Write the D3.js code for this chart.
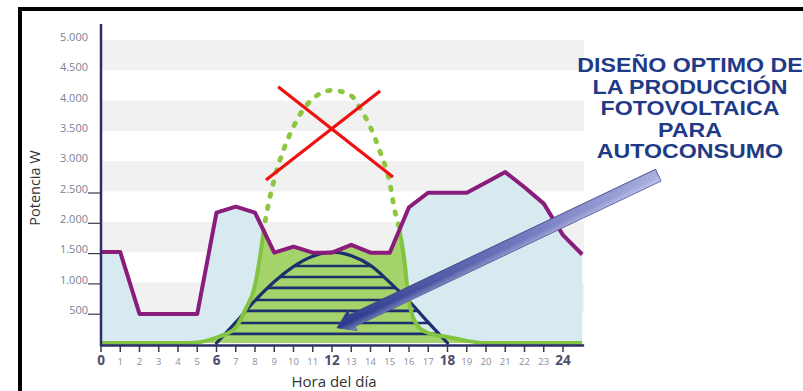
<!DOCTYPE html>
<html>
<head>
<meta charset="utf-8">
<script src="https://cdn.jsdelivr.net/npm/d3@7"></script>
<style>
  html, body { margin: 0; padding: 0; background: #fff; }
  svg { display: block; }
</style>
</head>
<body>
<svg id="chart" width="803" height="391"></svg>
<script>
// Hourly household consumption (W)
const consHours = [0,1,2,3,4,5,6,7,8,9,10,11,12,13,14,15,16,17,18,19,20,21,22,23,24,25];
const consumption = [1500,1500,480,480,480,480,2150,2250,2150,1490,1590,1490,1490,1620,1490,1490,2240,2480,2480,2480,2650,2820,2570,2300,1780,1460];

// Photovoltaic production of an oversized installation (W)
const pvHours = [0,1,2,3,4,5,5.5,6,6.5,7,7.5,8,8.25,8.5,9,9.5,10,10.5,11,12,13,13.5,14,14.5,15,15.25,15.5,15.75,16,16.5,17,18,19,20,21,22,23,24,25];
const pvProduction = [0,0,0,0,0,10,40,90,150,250,550,950,1400,1950,2700,3200,3570,3850,4030,4170,4080,3850,3560,3150,2650,2200,1880,1390,680,265,165,100,35,0,0,0,0,0,0];

// Optimal PV production sized for self-consumption (W)
const optHours = [6,7,8,9,10,11,12,13,14,15,16,17,18];
const optProduction = [0,340,700,1010,1260,1430,1500,1440,1280,1000,690,340,0];
const hatchLevels = [150,330,530,710,910,1090,1270];

// Axis ticks
const yTicks = [500,1000,1500,2000,2500,3000,3500,4000,4500,5000];
const yTicksMarked = [500,1000,1500,2000,2500];
const xTicks = d3.range(0, 25);
const xMajor = [0,6,12,18,24];
const bands = [[500,1000],[1500,2000],[2500,3000],[3500,4000],[4500,5000]];

const title = ["DISEÑO OPTIMO DE","LA PRODUCCIÓN","FOTOVOLTAICA","PARA","AUTOCONSUMO"];

const svg = d3.select("#chart");
const x = d3.scaleLinear().domain([0, 24]).range([101, 563]);
const y = d3.scaleLinear().domain([0, 5000]).range([343, 40]);
const xEnd = x(25.1);

const fmt = d3.formatLocale({decimal: ",", thousands: ".", grouping: [3], currency: ["", "€"]}).format(",d");

const cons = consHours.map((h, i) => ({h, v: consumption[i]}));
const pv = pvHours.map((h, i) => ({h, v: pvProduction[i]}));
const opt = optHours.map((h, i) => ({h, v: optProduction[i]}));

const defs = svg.append("defs");

// Frame
svg.append("line").attr("x1", 18).attr("x2", 803).attr("y1", 9).attr("y2", 9)
  .attr("stroke", "#000").attr("stroke-width", 4);
svg.append("line").attr("x1", 20).attr("x2", 20).attr("y1", 7).attr("y2", 391)
  .attr("stroke", "#000").attr("stroke-width", 4);

// Alternating grid bands
svg.append("g").selectAll("rect").data(bands).join("rect")
  .attr("x", x(0)).attr("width", xEnd - x(0))
  .attr("y", d => y(d[1])).attr("height", d => y(d[0]) - y(d[1]))
  .attr("fill", "#f1f1f1");

// Clip regions below and above the consumption curve
defs.append("clipPath").attr("id", "belowCons").append("path")
  .attr("d", d3.area().x(d => x(d.h)).y0(y(0) + 8).y1(d => y(d.v))(cons));
defs.append("clipPath").attr("id", "aboveCons").append("path")
  .attr("d", d3.area().x(d => x(d.h)).y0(0).y1(d => y(d.v))(cons));

// Consumption area
svg.append("path")
  .attr("d", d3.area().x(d => x(d.h)).y0(y(0)).y1(d => y(d.v))(cons))
  .attr("fill", "#d6eaf0");

// Self-consumed PV energy
svg.append("path")
  .attr("clip-path", "url(#belowCons)")
  .attr("d", d3.area().curve(d3.curveMonotoneX).x(d => x(d.h)).y0(y(0)).y1(d => y(d.v))(pv))
  .attr("fill", "#a4d36c");

// Optimal production: hatched parabola
defs.append("clipPath").attr("id", "optClip").append("path")
  .attr("d", d3.area().curve(d3.curveMonotoneX).x(d => x(d.h)).y0(y(0)).y1(d => y(d.v))(opt));
svg.append("g").attr("clip-path", "url(#optClip)")
  .selectAll("line").data(hatchLevels).join("line")
  .attr("x1", x(5)).attr("x2", x(19))
  .attr("y1", d => y(d)).attr("y2", d => y(d))
  .attr("stroke", "#1d2f6e").attr("stroke-width", 2.6);
svg.append("path")
  .attr("d", d3.line().curve(d3.curveMonotoneX).x(d => x(d.h)).y(d => y(d.v))(opt))
  .attr("fill", "none").attr("stroke", "#1d2f6e").attr("stroke-width", 3.2)
  .attr("stroke-linecap", "round");

// PV production line: solid below consumption, dotted above
const pvLine = d3.line().curve(d3.curveMonotoneX).x(d => x(d.h)).y(d => y(d.v));
svg.append("path").attr("clip-path", "url(#belowCons)")
  .attr("d", pvLine(pv))
  .attr("fill", "none").attr("stroke", "#82c341").attr("stroke-width", 4);
svg.append("path").attr("clip-path", "url(#aboveCons)")
  .attr("d", pvLine(pv))
  .attr("fill", "none").attr("stroke", "#8dc63f").attr("stroke-width", 4.8)
  .attr("stroke-dasharray", "2.5 10").attr("stroke-linecap", "round");

// Consumption line
svg.append("path")
  .attr("d", d3.line().x(d => x(d.h)).y(d => y(d.v))(cons))
  .attr("fill", "none").attr("stroke", "#8a1c7c").attr("stroke-width", 4)
  .attr("stroke-linejoin", "round");

// Y axis
svg.append("line").attr("x1", x(0)).attr("x2", x(0)).attr("y1", 24).attr("y2", 346)
  .attr("stroke", "#2e2d6b").attr("stroke-width", 2.5);
svg.append("g").selectAll("text").data(yTicks).join("text")
  .attr("x", 88).attr("y", d => y(d)).attr("dy", "0.1em")
  .attr("text-anchor", "end")
  .attr("font-family", "Open Sans, sans-serif").attr("font-size", 11)
  .attr("fill", "#7c7f96")
  .text(d => fmt(d));
svg.append("g").selectAll("line").data(yTicksMarked).join("line")
  .attr("x1", 88).attr("x2", x(0)).attr("y1", d => y(d) + 1.5).attr("y2", d => y(d) + 1.5)
  .attr("stroke", "#3a3a4a").attr("stroke-width", 1.2);

// X axis
svg.append("line").attr("x1", x(0) - 1).attr("x2", xEnd).attr("y1", 345.5).attr("y2", 345.5)
  .attr("stroke", "#2e2d6b").attr("stroke-width", 2.5);
svg.append("g").selectAll("line").data(xTicks).join("line")
  .attr("x1", d => x(d)).attr("x2", d => x(d)).attr("y1", 346).attr("y2", 352)
  .attr("stroke", "#3a3a4a").attr("stroke-width", 1.5);
svg.append("g").selectAll("text").data(xTicks).join("text")
  .attr("x", d => x(d)).attr("y", 365)
  .attr("text-anchor", "middle")
  .attr("font-family", "Open Sans, sans-serif")
  .attr("font-size", d => xMajor.includes(d) ? 13.5 : 9.5)
  .attr("font-weight", d => xMajor.includes(d) ? "bold" : "normal")
  .attr("fill", d => xMajor.includes(d) ? "#4a4d6c" : "#8a8c9c")
  .text(d => d);

// Axis titles
svg.append("text").attr("x", 334).attr("y", 387).attr("text-anchor", "middle")
  .attr("font-family", "Open Sans, sans-serif").attr("font-size", 15).attr("fill", "#333")
  .text("Hora del día");
svg.append("text").attr("transform", "translate(40,188) rotate(-90)").attr("text-anchor", "middle")
  .attr("font-family", "Open Sans, sans-serif").attr("font-size", 14.5).attr("fill", "#333")
  .text("Potencia W");

// Red cross over the oversized production
const cross = [[[9.2, 4230], [15.17, 2740]], [[14.5, 4160], [8.57, 2690]]];
svg.append("g").selectAll("line").data(cross).join("line")
  .attr("x1", d => x(d[0][0])).attr("y1", d => y(d[0][1]))
  .attr("x2", d => x(d[1][0])).attr("y2", d => y(d[1][1]))
  .attr("stroke", "#f01010").attr("stroke-width", 3.2);

// Pointer arrow toward the optimal production
const tail = [x(28.95), y(2770)], tip = [x(12.26), y(250)];
const dx = tip[0] - tail[0], dy = tip[1] - tail[1];
const len = Math.hypot(dx, dy), ang = Math.atan2(dy, dx) * 180 / Math.PI;
const grad = defs.append("linearGradient").attr("id", "arrowGrad")
  .attr("x1", 0).attr("y1", 0).attr("x2", 1).attr("y2", 0);
grad.append("stop").attr("offset", "0%").attr("stop-color", "#a9aee0");
grad.append("stop").attr("offset", "45%").attr("stop-color", "#6c74bb");
grad.append("stop").attr("offset", "100%").attr("stop-color", "#26358a");
const shade = defs.append("linearGradient").attr("id", "arrowShade")
  .attr("x1", 0).attr("y1", 0).attr("x2", 0).attr("y2", 1);
shade.append("stop").attr("offset", "0%").attr("stop-color", "#fff").attr("stop-opacity", 0.45);
shade.append("stop").attr("offset", "50%").attr("stop-color", "#fff").attr("stop-opacity", 0);
shade.append("stop").attr("offset", "100%").attr("stop-color", "#000").attr("stop-opacity", 0.15);
const hw = 6.5, headL = 17, headW = 11;
const arrowPath = `M0,${-hw}L${len - headL},${-hw}L${len - headL},${-headW}L${len},0L${len - headL},${headW}L${len - headL},${hw}L0,${hw}Z`;
const arrow = svg.append("g").attr("transform", `translate(${tail[0]},${tail[1]}) rotate(${ang})`);
arrow.append("path").attr("d", arrowPath).attr("fill", "url(#arrowGrad)")
  .attr("stroke", "#3b4690").attr("stroke-width", 0.8);
arrow.append("path").attr("d", arrowPath).attr("fill", "url(#arrowShade)");

// Annotation text
svg.append("g").selectAll("text").data(title).join("text")
  .attr("transform", (d, i) => `translate(690,${72 + i * 21.5}) scale(1.16,1)`)
  .attr("text-anchor", "middle")
  .attr("font-family", "Liberation Sans, Arial, sans-serif").attr("font-weight", "bold")
  .attr("font-size", 20).attr("fill", "#1f3a86")
  .text(d => d);
</script>
</body>
</html>
